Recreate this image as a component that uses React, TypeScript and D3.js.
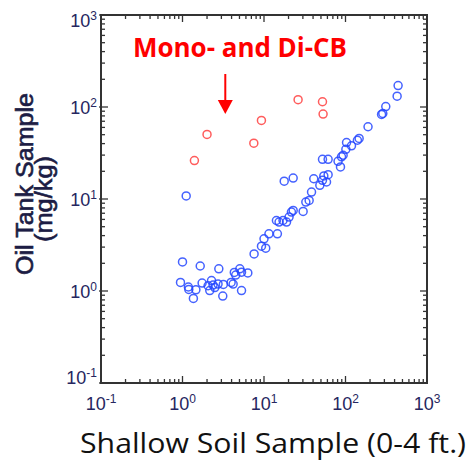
import React from "react";
import * as d3 from "d3";

// Shallow soil vs. oil tank concentrations (mg/kg)
const pcbSoil = [
  1.11, 1.0, 1.65, 2.79, 0.945, 1.18, 1.195, 1.46, 1.36, 1.74, 2.06, 2.27, 2.37, 2.49,
  2.16, 2.73, 3.17, 3.12, 3.95, 4.32, 5.05, 5.3, 6.33, 4.18, 5.3, 4.5, 7.56, 9.31,
  10.0, 10.5, 11.5, 14.6, 14.2, 15.3, 17.1, 18.9, 20.3, 21.7, 22.8, 30.2, 32.6, 35.8,
  38.3, 48.4, 17.7, 22.8, 40.8, 54.2, 61.2, 58.5, 52.2, 52.2, 61.2, 81, 86.8, 89.3,
  93.5, 101, 103, 118.5, 140, 147, 189, 277, 287, 312, 430, 442,
];
const pcbTank = [
  10.8, 2.07, 1.87, 1.74, 1.24, 1.105, 1.04, 1.03, 0.83, 1.22, 1.14, 1.3, 1.16, 1.09,
  1.01, 1.19, 1.18, 0.88, 1.24, 1.59, 1.74, 1.6, 1.57, 1.19, 1.01, 1.49, 2.53, 3.07,
  3.69, 2.92, 4.18, 4.18, 5.84, 5.61, 5.84, 5.61, 6.36, 7.21, 7.51, 7.32, 9.27, 9.66,
  11.9, 14.1, 15.6, 16.9, 16.6, 17.8, 18.4, 15.3, 15.96, 27, 27, 25.7, 22.3, 28.7,
  29.9, 34.7, 41.1, 37.8, 43.5, 45.5, 61, 83, 85, 101, 131, 171,
];

// Mono- and di-chlorinated biphenyl congeners
const cbSoil = [1.4, 2.0, 7.5, 9.3, 26.2, 52.2, 53.1];
const cbTank = [26.2, 50.3, 40.4, 71.4, 120, 114, 83.7];

const decades = [-1, 0, 1, 2, 3];
const minorMults = [2, 3, 4, 5, 6, 7, 8, 9];

const xTitle = "Shallow Soil Sample (0-4 ft.)";
const yTitle = "Oil Tank Sample";
const yUnits = "(mg/kg)";
const note = "Mono- and Di-CB";

const W = 469;
const H = 464;
const plot = { left: 101, right: 427, top: 15, bottom: 383 };

export default function App() {
  const x = d3.scaleLog().domain([0.1, 1000]).range([plot.left, plot.right]);
  const y = d3.scaleLog().domain([0.1, 1000]).range([plot.bottom, plot.top]);

  const majors = decades.map((e) => Math.pow(10, e));
  const minors: number[] = [];
  decades.slice(0, -1).forEach((e) => {
    minorMults.forEach((m) => minors.push(m * Math.pow(10, e)));
  });

  const axisColor = "#333";
  const labelColor = "#262660";
  const titleColor = "#1c1c44";
  const majorLen = 7;
  const minorLen = 4;

  const blue = pcbSoil.map((v, i) => [v, pcbTank[i]]);
  const red = cbSoil.map((v, i) => [v, cbTank[i]]);

  const arrowX = x(3.35);
  const arrowTop = 74;
  const arrowTip = 114;

  return (
    <svg
      width={W}
      height={H}
      style={{ position: "absolute", left: 0, top: 0, background: "#fff" }}
      fontFamily="'Liberation Sans', Arial, sans-serif"
    >
      <rect x={0} y={0} width={W} height={H} fill="#fff" />

      {/* tick marks on all four sides, pointing inward */}
      <g stroke={axisColor} strokeWidth={1.3}>
        {majors.map((v) => (
          <g key={"mx" + v}>
            <line x1={x(v)} x2={x(v)} y1={plot.bottom + 1} y2={plot.bottom - majorLen} />
            <line x1={x(v)} x2={x(v)} y1={plot.top - 1} y2={plot.top + majorLen} />
            <line y1={y(v)} y2={y(v)} x1={plot.left - 2} x2={plot.left + majorLen} />
            <line y1={y(v)} y2={y(v)} x1={plot.right + 1} x2={plot.right - majorLen} />
          </g>
        ))}
        {minors.map((v) => (
          <g key={"mn" + v}>
            <line x1={x(v)} x2={x(v)} y1={plot.bottom} y2={plot.bottom - minorLen} />
            <line x1={x(v)} x2={x(v)} y1={plot.top} y2={plot.top + minorLen} />
            <line y1={y(v)} y2={y(v)} x1={plot.left} x2={plot.left + minorLen} />
            <line y1={y(v)} y2={y(v)} x1={plot.right} x2={plot.right - minorLen} />
          </g>
        ))}
      </g>

      <rect
        x={plot.left}
        y={plot.top}
        width={plot.right - plot.left}
        height={plot.bottom - plot.top}
        fill="none"
        stroke={axisColor}
        strokeWidth={2}
      />

      {/* x tick labels */}
      <g fill={labelColor} fontSize={18}>
        {decades.map((e) => (
          <text key={"xl" + e} x={x(Math.pow(10, e))} y={410} textAnchor="middle">
            <tspan>10</tspan>
            <tspan dy={-7} fontSize={12}>{e}</tspan>
          </text>
        ))}
      </g>

      {/* y tick labels */}
      <g fill={labelColor} fontSize={18}>
        {decades.map((e) => {
          const shift = e === -1 ? -6 : e === 3 ? 5 : 0;
          return (
            <text
              key={"yl" + e}
              x={97}
              y={y(Math.pow(10, e)) + 7 + shift}
              textAnchor="end"
            >
              <tspan>10</tspan>
              <tspan dy={-7} fontSize={12}>{e}</tspan>
            </text>
          );
        })}
      </g>

      {/* axis titles */}
      <g fill={titleColor} stroke={titleColor} strokeWidth={0.6} fontSize={23}>
        <text
          transform="translate(33,184) rotate(-90)"
          textAnchor="middle"
          textLength={182}
          lengthAdjust="spacingAndGlyphs"
        >
          {yTitle}
        </text>
        <text
          transform="translate(52,199) rotate(-90)"
          textAnchor="middle"
          textLength={86}
          lengthAdjust="spacingAndGlyphs"
        >
          {yUnits}
        </text>
      </g>
      <text
        x={80}
        y={453}
        fontFamily="'Open Sans', 'Noto Sans', sans-serif"
        fontSize={28}
        fill="#111"
        textLength={386}
        lengthAdjust="spacingAndGlyphs"
      >
        {xTitle}
      </text>

      {/* annotation */}
      <text
        x={133}
        y={57}
        fontFamily="'Open Sans', 'Noto Sans', sans-serif"
        fontSize={26}
        fontWeight="bold"
        fill="#ff0000"
        textLength={214}
        lengthAdjust="spacingAndGlyphs"
      >
        {note}
      </text>
      <line
        x1={arrowX}
        x2={arrowX}
        y1={arrowTop}
        y2={arrowTip - 12}
        stroke="#ff0000"
        strokeWidth={2}
      />
      <path
        d={`M${arrowX - 7.5},${arrowTip - 14} L${arrowX + 7.5},${arrowTip - 14} L${arrowX},${arrowTip} Z`}
        fill="#ff0000"
      />

      {/* data */}
      <g fill="none" stroke="#2447ff" strokeWidth={1.5} strokeOpacity={0.85}>
        {blue.map(([a, b], i) => (
          <circle key={"b" + i} cx={x(a)} cy={y(b)} r={4} />
        ))}
      </g>
      <g fill="none" stroke="#ff3333" strokeWidth={1.5} strokeOpacity={0.8}>
        {red.map(([a, b], i) => (
          <circle key={"r" + i} cx={x(a)} cy={y(b)} r={4} />
        ))}
      </g>
    </svg>
  );
}
